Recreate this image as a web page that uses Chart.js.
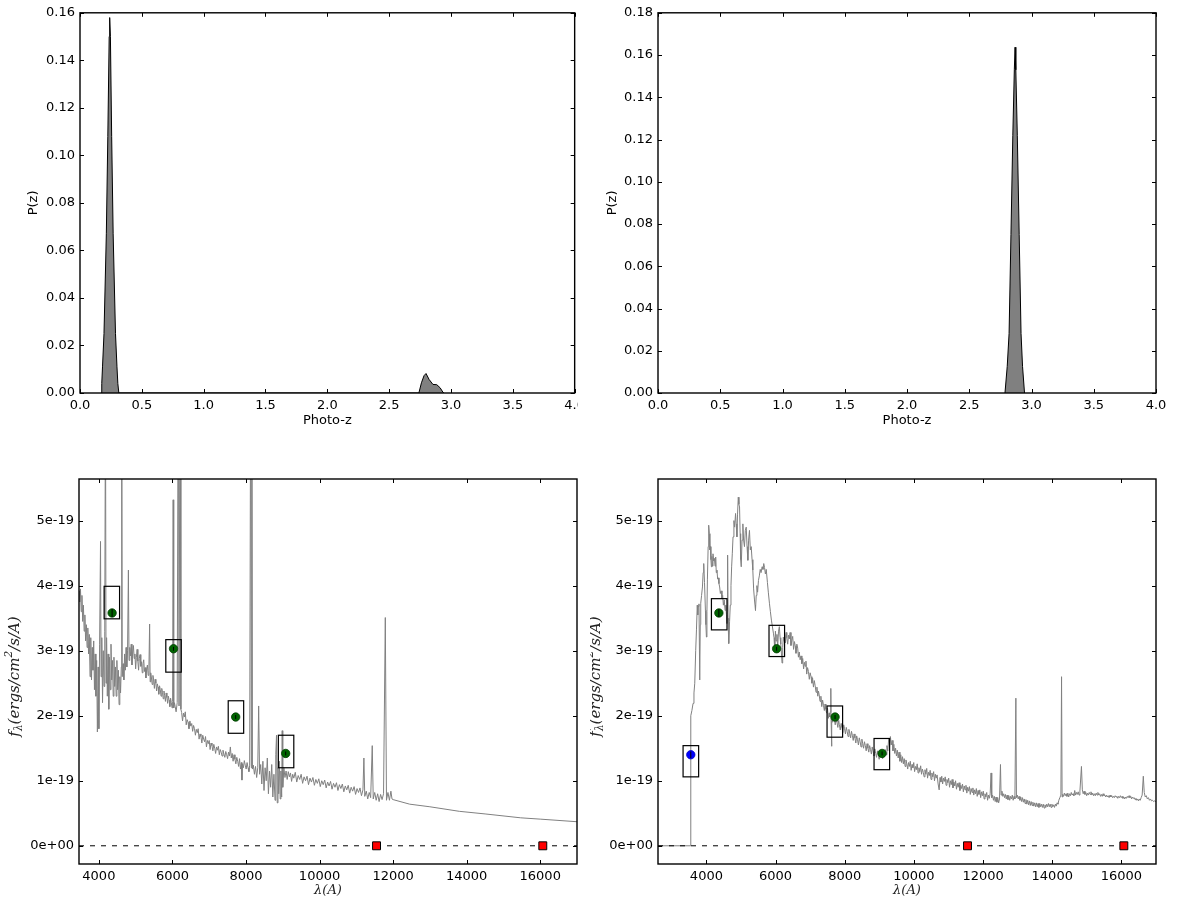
<!DOCTYPE html>
<html>
<head>
<meta charset="utf-8">
<title>Photo-z fits</title>
<script src="https://cdn.jsdelivr.net/npm/chart.js@4.4.1/dist/chart.umd.min.js"></script>
<style>
  body { margin: 0; background: #fff; }
  .panel { position: absolute; overflow: hidden; }
</style>
</head>
<body>
<div class="panel" style="left:0;top:0;width:578px;height:440px"><canvas id="pzLeft" width="590" height="440"></canvas></div>
<div class="panel" style="left:590px;top:0;width:589px;height:440px"><canvas id="pzRight" width="589" height="440"></canvas></div>
<div class="panel" style="left:0;top:440px;width:590px;height:463px"><canvas id="sedLeft" width="590" height="463"></canvas></div>
<div class="panel" style="left:590px;top:440px;width:589px;height:463px"><canvas id="sedRight" width="589" height="463"></canvas></div>
<script>
// ---- P(z) curves: [z, P] ----
var pzLeft = [
    [0.170, 0], [0.176, 0.004], [0.182, 0.011], [0.194, 0.025], [0.213, 0.067], [0.225, 0.108],
    [0.236, 0.150], [0.240, 0.158], [0.246, 0.150], [0.256, 0.108], [0.268, 0.067], [0.287, 0.025],
    [0.299, 0.011], [0.306, 0.004], [0.314, 0],
    [2.740, 0], [2.761, 0.0043], [2.782, 0.0073], [2.798, 0.0082], [2.823, 0.0057], [2.854, 0.0036],
    [2.885, 0.0035], [2.912, 0.0022], [2.934, 0.0004], [2.943, 0]
];
var pzRight = [
    [2.787, 0], [2.805, 0.0126], [2.820, 0.0282], [2.835, 0.075], [2.850, 0.122], [2.862, 0.153],
    [2.868, 0.1637], [2.874, 0.153], [2.886, 0.122], [2.901, 0.075], [2.916, 0.0282], [2.928, 0.0126],
    [2.944, 0]
];
var pzTicksX = [0, 0.5, 1, 1.5, 2, 2.5, 3, 3.5, 4];
var pzTicksLeft = [0, 0.02, 0.04, 0.06, 0.08, 0.10, 0.12, 0.14, 0.16];
var pzTicksRight = [0, 0.02, 0.04, 0.06, 0.08, 0.10, 0.12, 0.14, 0.16, 0.18];

// ---- template spectra: [wavelength (A), flux (1e-19 ergs/cm2/s/A)] ----
var specLeft = [
    [3460, 3.92], [3480, 3.75], [3500, 3.95], [3520, 3.60], [3540, 3.85], [3560, 3.45], [3580, 3.70],
    [3600, 3.30], [3620, 3.55], [3640, 3.15], [3660, 3.40], [3680, 3.05], [3700, 3.35], [3720, 2.95],
    [3740, 3.25], [3760, 2.60], [3780, 3.20], [3800, 2.55], [3820, 3.05], [3840, 2.70], [3860, 3.15],
    [3880, 2.40], [3900, 2.95], [3920, 2.30], [3940, 2.85], [3960, 1.75], [3980, 2.75], [4000, 1.80],
    [4020, 3.10], [4045, 4.68], [4060, 2.60], [4080, 3.20], [4100, 2.20], [4120, 3.00], [4140, 2.45],
    [4160, 3.30], [4180, 7.00], [4195, 2.50], [4210, 3.20], [4230, 2.30], [4250, 2.95], [4270, 2.10],
    [4290, 2.90], [4310, 2.40], [4330, 3.10], [4350, 2.55], [4370, 2.85], [4390, 2.30], [4410, 2.90],
    [4430, 2.45], [4450, 2.75], [4470, 2.30], [4490, 2.85], [4510, 2.40], [4530, 2.70], [4550, 2.17],
    [4570, 2.60], [4590, 2.35], [4610, 2.75], [4622, 7.00], [4635, 2.60], [4660, 2.80], [4680, 2.55],
    [4700, 2.95], [4720, 2.70], [4740, 3.05], [4760, 2.75], [4780, 3.00], [4803, 4.24], [4820, 2.85],
    [4840, 3.05], [4860, 2.92], [4880, 3.10], [4900, 2.78], [4920, 2.98], [4940, 3.08], [4960, 2.88],
    [4980, 2.95], [5000, 2.72], [5020, 2.90], [5040, 3.02], [5060, 2.84], [5080, 2.70], [5100, 2.88],
    [5120, 2.94], [5140, 2.76], [5160, 2.83], [5180, 2.66], [5200, 2.80], [5220, 2.86], [5240, 2.68],
    [5260, 2.74], [5280, 2.58], [5300, 2.72], [5320, 2.78], [5340, 2.62], [5360, 2.70], [5380, 3.41],
    [5395, 2.52], [5410, 2.66], [5430, 2.58], [5450, 2.48], [5470, 2.62], [5490, 2.55], [5510, 2.42],
    [5530, 2.56], [5550, 2.50], [5570, 2.38], [5590, 2.49], [5610, 2.44], [5630, 2.33], [5650, 2.46],
    [5670, 2.40], [5690, 2.30], [5710, 2.42], [5730, 2.36], [5750, 2.26], [5770, 2.38], [5790, 2.31],
    [5810, 2.22], [5830, 2.35], [5850, 2.28], [5870, 2.19], [5890, 2.30], [5910, 2.24], [5930, 2.14],
    [5950, 2.27], [5970, 2.20], [5990, 2.12], [6005, 2.22], [6020, 5.32], [6035, 2.12], [6055, 2.20],
    [6075, 2.14], [6100, 2.06], [6130, 2.20], [6160, 8.00], [6180, 2.15], [6210, 8.00], [6230, 2.10],
    [6250, 2.05], [6275, 1.92], [6300, 2.04], [6325, 1.98], [6350, 2.06], [6375, 1.86], [6400, 1.94],
    [6425, 1.90], [6450, 1.80], [6475, 1.92], [6500, 1.84], [6525, 1.88], [6550, 1.76], [6575, 1.85],
    [6600, 1.80], [6625, 1.70], [6650, 1.79], [6675, 1.74], [6700, 1.80], [6725, 1.64], [6750, 1.72],
    [6775, 1.68], [6800, 1.58], [6825, 1.70], [6850, 1.64], [6875, 1.60], [6900, 1.68], [6925, 1.52],
    [6950, 1.62], [6975, 1.57], [7000, 1.62], [7025, 1.48], [7050, 1.58], [7075, 1.54], [7100, 1.46],
    [7125, 1.56], [7150, 1.50], [7175, 1.42], [7200, 1.52], [7225, 1.47], [7250, 1.53], [7275, 1.40],
    [7300, 1.48], [7325, 1.44], [7350, 1.38], [7375, 1.47], [7400, 1.41], [7425, 1.36], [7450, 1.45],
    [7475, 1.40], [7500, 1.34], [7525, 1.44], [7550, 1.38], [7575, 1.52], [7600, 1.35], [7625, 1.42],
    [7650, 1.30], [7675, 1.40], [7700, 1.33], [7725, 1.26], [7750, 1.36], [7775, 1.30], [7800, 1.22],
    [7825, 1.34], [7850, 1.18], [7875, 1.28], [7890, 1.01], [7905, 1.26], [7930, 1.20], [7955, 1.31],
    [7980, 1.24], [8005, 1.18], [8030, 1.28], [8055, 1.20], [8080, 1.14], [8100, 1.24], [8130, 8.00],
    [8145, 1.20], [8160, 8.00], [8175, 1.18], [8200, 1.24], [8230, 1.10], [8260, 1.22], [8290, 1.05],
    [8320, 1.20], [8345, 2.15], [8370, 1.10], [8400, 1.25], [8430, 0.95], [8460, 1.30], [8490, 0.85],
    [8520, 1.20], [8550, 1.00], [8580, 1.35], [8610, 0.80], [8640, 1.15], [8670, 0.90], [8700, 1.25],
    [8730, 0.75], [8760, 1.10], [8790, 0.70], [8810, 1.40], [8830, 1.70], [8850, 0.66], [8870, 1.20],
    [8890, 0.80], [8910, 1.30], [8930, 0.72], [8950, 1.15], [8970, 0.75], [8985, 1.77], [9000, 0.90],
    [9030, 1.20], [9060, 1.05], [9090, 1.15], [9120, 1.02], [9150, 1.14], [9180, 1.06], [9210, 1.12],
    [9240, 0.99], [9270, 1.10], [9300, 1.04], [9340, 1.13], [9380, 0.98], [9420, 1.08], [9460, 1.02],
    [9500, 1.10], [9540, 0.96], [9580, 1.06], [9620, 1.00], [9660, 1.07], [9700, 0.94], [9740, 1.04],
    [9780, 0.98], [9820, 1.05], [9860, 0.93], [9900, 1.02], [9940, 0.96], [9980, 1.03], [10020, 0.91],
    [10060, 1.00], [10100, 0.94], [10140, 1.01], [10180, 0.89], [10220, 0.98], [10260, 0.92], [10300, 0.99],
    [10340, 0.87], [10380, 0.96], [10420, 0.90], [10460, 0.97], [10500, 0.85], [10540, 0.94], [10580, 0.88],
    [10620, 0.95], [10660, 0.83], [10700, 0.92], [10740, 0.86], [10780, 0.93], [10820, 0.81], [10860, 0.90],
    [10900, 0.84], [10940, 0.91], [10980, 0.79], [11020, 0.88], [11060, 0.82], [11100, 0.89], [11140, 0.77],
    [11180, 0.86], [11206, 1.35], [11230, 0.76], [11270, 0.84], [11310, 0.72], [11350, 0.82], [11390, 0.74],
    [11433, 1.54], [11460, 0.72], [11500, 0.82], [11540, 0.70], [11580, 0.80], [11620, 0.68], [11660, 0.79],
    [11700, 0.71], [11740, 0.80], [11788, 3.51], [11820, 0.70], [11860, 0.82], [11900, 0.70], [11940, 0.84],
    [11970, 0.72], [12000, 0.71], [12450, 0.64], [13000, 0.60], [13800, 0.53], [14500, 0.49], [15470, 0.43],
    [16000, 0.41], [17000, 0.37]
];

var specRight = [
    [2600, 0], [3545, 0], [3548, 2.00], [3580, 2.08], [3614, 2.19], [3640, 2.35], [3663, 2.50],
    [3690, 3.00], [3712, 3.32], [3735, 3.70], [3750, 3.55], [3760, 3.68], [3785, 3.72], [3807, 2.55],
    [3822, 3.40], [3836, 3.73], [3860, 3.85], [3885, 3.98], [3905, 4.20], [3922, 4.34], [3945, 4.05],
    [3971, 3.62], [3985, 3.40], [4000, 3.21], [4015, 3.60], [4029, 4.10], [4050, 4.60], [4066, 4.93],
    [4085, 4.80], [4100, 4.55], [4115, 4.60], [4130, 4.40], [4144, 4.29], [4160, 4.45], [4175, 4.30],
    [4190, 4.49], [4210, 4.38], [4230, 4.42], [4250, 4.30], [4268, 4.44], [4285, 4.20], [4305, 4.24],
    [4325, 4.10], [4345, 4.12], [4363, 4.03], [4383, 3.98], [4403, 3.88], [4425, 3.92], [4450, 3.80],
    [4470, 3.85], [4490, 3.70], [4515, 3.78], [4540, 3.62], [4560, 3.70], [4580, 3.55], [4594, 3.42],
    [4605, 3.60], [4613, 4.47], [4625, 3.50], [4640, 3.20], [4651, 3.11], [4670, 3.45], [4690, 3.70],
    [4710, 4.00], [4730, 4.30], [4748, 4.49], [4770, 4.75], [4795, 5.00], [4815, 4.90], [4843, 5.11],
    [4860, 4.95], [4882, 4.75], [4900, 5.10], [4921, 5.36], [4940, 5.25], [4958, 5.21], [4975, 4.80],
    [4990, 4.40], [5007, 4.29], [5030, 4.70], [5054, 4.95], [5075, 4.70], [5100, 4.60], [5125, 4.85],
    [5151, 4.90], [5175, 4.60], [5198, 4.39], [5220, 4.70], [5245, 4.85], [5270, 4.55], [5295, 4.60],
    [5320, 4.40], [5342, 4.24], [5365, 3.95], [5390, 3.78], [5405, 3.70], [5419, 3.62], [5440, 3.85],
    [5460, 4.00], [5480, 3.90], [5505, 4.08], [5530, 4.15], [5555, 4.25], [5580, 4.20], [5611, 4.29],
    [5635, 4.25], [5658, 4.34], [5680, 4.28], [5705, 4.18], [5730, 4.25], [5764, 4.05], [5790, 3.90],
    [5822, 3.73], [5850, 3.60], [5879, 3.47], [5905, 3.38], [5937, 3.27], [5955, 3.20], [5975, 3.01],
    [5995, 3.30], [6015, 3.15], [6040, 3.25], [6060, 3.05], [6085, 3.30], [6109, 3.37], [6130, 3.20],
    [6150, 3.10], [6170, 2.95], [6187, 2.81], [6205, 3.05], [6224, 3.21], [6245, 3.14], [6265, 3.25],
    [6285, 3.12], [6305, 3.28], [6325, 3.20], [6350, 3.10], [6375, 3.24], [6397, 3.18], [6420, 3.28],
    [6445, 3.08], [6470, 3.16], [6495, 3.22], [6520, 3.02], [6545, 3.14], [6570, 3.07], [6590, 2.96],
    [6615, 3.10], [6640, 3.04], [6660, 2.90], [6685, 2.98], [6710, 2.86], [6735, 2.92], [6760, 2.80],
    [6785, 2.88], [6810, 2.72], [6835, 2.82], [6860, 2.76], [6878, 2.84], [6900, 2.64], [6925, 2.74],
    [6950, 2.68], [6975, 2.56], [7000, 2.66], [7025, 2.60], [7050, 2.50], [7070, 2.58], [7095, 2.44],
    [7120, 2.54], [7145, 2.46], [7170, 2.36], [7195, 2.44], [7220, 2.30], [7240, 2.38], [7261, 2.32],
    [7285, 2.22], [7310, 2.30], [7335, 2.14], [7360, 2.24], [7385, 2.16], [7410, 2.08], [7430, 2.18],
    [7453, 2.10], [7475, 2.04], [7500, 2.12], [7525, 1.96], [7549, 2.04], [7565, 1.98], [7580, 2.06],
    [7597, 2.42], [7606, 1.92], [7616, 1.53], [7630, 2.00], [7650, 1.90], [7675, 2.04], [7700, 1.94],
    [7725, 1.86], [7750, 1.96], [7775, 1.90], [7800, 1.82], [7825, 1.93], [7845, 1.86], [7870, 1.78],
    [7895, 1.88], [7920, 1.82], [7945, 1.74], [7970, 1.86], [7995, 1.80], [8020, 1.72], [8045, 1.82],
    [8070, 1.76], [8095, 1.68], [8120, 1.79], [8145, 1.73], [8170, 1.66], [8195, 1.76], [8220, 1.70],
    [8245, 1.62], [8270, 1.72], [8295, 1.66], [8320, 1.58], [8345, 1.69], [8370, 1.63], [8395, 1.55],
    [8420, 1.66], [8445, 1.60], [8470, 1.52], [8495, 1.64], [8520, 1.57], [8545, 1.50], [8570, 1.60],
    [8595, 1.54], [8620, 1.46], [8645, 1.57], [8670, 1.50], [8695, 1.44], [8720, 1.54], [8745, 1.48],
    [8770, 1.41], [8795, 1.52], [8820, 1.45], [8845, 1.38], [8870, 1.49], [8895, 1.42], [8920, 1.36],
    [8945, 1.46], [8970, 1.40], [8995, 1.33], [9020, 1.44], [9045, 1.38], [9070, 1.46], [9095, 1.34],
    [9120, 1.44], [9145, 1.38], [9170, 1.48], [9195, 1.40], [9220, 1.54], [9245, 1.46], [9270, 1.64],
    [9295, 1.52], [9320, 1.68], [9345, 1.55], [9370, 1.62], [9395, 1.46], [9420, 1.56], [9445, 1.42],
    [9470, 1.50], [9495, 1.38], [9520, 1.47], [9545, 1.35], [9570, 1.44], [9595, 1.30], [9620, 1.40],
    [9645, 1.28], [9670, 1.37], [9695, 1.26], [9720, 1.34], [9745, 1.22], [9770, 1.32], [9795, 1.26],
    [9820, 1.18], [9845, 1.28], [9870, 1.22], [9895, 1.30], [9920, 1.16], [9945, 1.25], [9970, 1.20],
    [9995, 1.28], [10020, 1.14], [10045, 1.22], [10070, 1.17], [10095, 1.26], [10120, 1.12], [10145, 1.20],
    [10170, 1.14], [10195, 1.23], [10220, 1.10], [10245, 1.18], [10270, 1.13], [10295, 1.06], [10320, 1.17],
    [10345, 1.10], [10370, 1.19], [10395, 1.04], [10420, 1.13], [10445, 1.08], [10470, 1.16], [10495, 1.02],
    [10520, 1.12], [10545, 1.06], [10570, 1.14], [10595, 1.00], [10620, 1.10], [10645, 1.04], [10670, 1.09],
    [10700, 0.95], [10730, 0.86], [10755, 1.05], [10780, 0.98], [10805, 1.07], [10830, 0.95], [10855, 1.04],
    [10880, 0.99], [10905, 1.06], [10930, 0.93], [10955, 1.02], [10980, 0.97], [11005, 1.04], [11030, 0.90],
    [11055, 1.00], [11080, 0.94], [11105, 1.02], [11130, 0.89], [11155, 0.98], [11180, 0.92], [11205, 1.00],
    [11230, 0.87], [11255, 0.96], [11280, 0.90], [11305, 0.97], [11330, 0.85], [11355, 0.93], [11380, 0.88],
    [11405, 0.95], [11430, 0.83], [11455, 0.92], [11480, 0.86], [11505, 0.93], [11530, 0.81], [11555, 0.90],
    [11580, 0.84], [11605, 0.91], [11630, 0.79], [11655, 0.88], [11680, 0.82], [11705, 0.89], [11730, 0.78],
    [11755, 0.86], [11780, 0.80], [11805, 0.88], [11830, 0.76], [11855, 0.85], [11880, 0.79], [11905, 0.86],
    [11930, 0.74], [11955, 0.83], [11980, 0.77], [12005, 0.84], [12030, 0.72], [12055, 0.80], [12080, 0.75],
    [12105, 0.82], [12130, 0.70], [12155, 0.78], [12180, 0.73], [12205, 0.80], [12231, 1.12], [12250, 0.74],
    [12275, 0.78], [12300, 0.70], [12325, 0.76], [12350, 0.68], [12375, 0.75], [12400, 0.67], [12425, 0.74],
    [12450, 0.66], [12475, 0.72], [12503, 1.25], [12520, 0.78], [12545, 0.84], [12570, 0.76], [12595, 0.80],
    [12620, 0.74], [12645, 0.79], [12670, 0.72], [12695, 0.78], [12720, 0.71], [12745, 0.77], [12770, 0.70],
    [12795, 0.76], [12820, 0.72], [12845, 0.78], [12870, 0.70], [12895, 0.76], [12920, 0.72], [12948, 2.27],
    [12965, 0.74], [12990, 0.78], [13015, 0.72], [13040, 0.76], [13065, 0.70], [13090, 0.75], [13115, 0.68],
    [13140, 0.74], [13165, 0.67], [13190, 0.72], [13215, 0.65], [13240, 0.71], [13265, 0.64], [13290, 0.70],
    [13315, 0.63], [13340, 0.69], [13365, 0.62], [13390, 0.68], [13415, 0.62], [13440, 0.67], [13465, 0.61],
    [13490, 0.66], [13515, 0.60], [13540, 0.66], [13565, 0.60], [13590, 0.65], [13615, 0.59], [13640, 0.65],
    [13665, 0.60], [13690, 0.64], [13715, 0.59], [13740, 0.64], [13765, 0.58], [13790, 0.63], [13815, 0.59],
    [13840, 0.64], [13865, 0.60], [13890, 0.65], [13915, 0.60], [13940, 0.64], [13965, 0.59], [13990, 0.64],
    [14015, 0.60], [14040, 0.63], [14065, 0.59], [14090, 0.64], [14115, 0.61], [14140, 0.66], [14165, 0.64],
    [14190, 0.70], [14220, 0.74], [14250, 0.78], [14269, 2.60], [14285, 0.75], [14300, 0.79], [14325, 0.76],
    [14350, 0.81], [14375, 0.77], [14400, 0.80], [14425, 0.76], [14450, 0.81], [14475, 0.75], [14500, 0.80],
    [14525, 0.77], [14550, 0.82], [14575, 0.78], [14600, 0.80], [14625, 0.77], [14650, 0.85], [14675, 0.78],
    [14700, 0.82], [14725, 0.79], [14750, 0.83], [14775, 0.78], [14800, 0.84], [14844, 1.22], [14870, 0.86],
    [14895, 0.80], [14920, 0.84], [14945, 0.79], [14970, 0.82], [14995, 0.77], [15020, 0.81], [15045, 0.78],
    [15070, 0.82], [15095, 0.79], [15120, 0.83], [15145, 0.78], [15170, 0.81], [15195, 0.77], [15220, 0.80],
    [15245, 0.77], [15270, 0.81], [15295, 0.78], [15320, 0.82], [15345, 0.78], [15370, 0.80], [15395, 0.76],
    [15420, 0.79], [15445, 0.76], [15470, 0.80], [15495, 0.77], [15520, 0.78], [15545, 0.75], [15570, 0.78],
    [15595, 0.75], [15620, 0.77], [15645, 0.74], [15670, 0.78], [15695, 0.75], [15720, 0.77], [15745, 0.74],
    [15770, 0.76], [15795, 0.74], [15820, 0.77], [15845, 0.75], [15870, 0.76], [15895, 0.73], [15920, 0.76],
    [15945, 0.74], [15970, 0.77], [15995, 0.74], [16020, 0.76], [16045, 0.73], [16070, 0.75], [16095, 0.72],
    [16120, 0.75], [16145, 0.73], [16170, 0.76], [16195, 0.74], [16220, 0.77], [16245, 0.74], [16270, 0.76],
    [16295, 0.72], [16320, 0.75], [16345, 0.73], [16370, 0.74], [16395, 0.71], [16420, 0.73], [16445, 0.70],
    [16470, 0.72], [16495, 0.69], [16520, 0.72], [16545, 0.70], [16570, 0.74], [16600, 0.78], [16633, 1.07],
    [16660, 0.82], [16690, 0.75], [16720, 0.77], [16750, 0.72], [16780, 0.74], [16810, 0.70], [16840, 0.72],
    [16870, 0.69], [16900, 0.70], [16930, 0.68], [16960, 0.69], [17000, 0.68]
];
var sedTicksX = [4000, 6000, 8000, 10000, 12000, 14000, 16000];
var sedTicksY = [0, 1, 2, 3, 4, 5];

// ---- photometry (flux in 1e-19 units) ----
var bandLambda = [4360, 6030, 7720, 9080];
var bandFlux = [3.58, 3.03, 1.98, 1.42];
var bandErr = [0.06, 0.03, 0.03, 0.03];
var uLambda = [3548];
var uFlux = [1.40];
var uErr = [0.05];
var limitLambda = [11550, 16070];
var limitFlux = [0, 0];

// model fluxes through each filter, drawn as boxes
var modelLeft = [[4353, 3.74], [6030, 2.92], [7727, 1.98], [9090, 1.45]];
var modelRight = [[3550, 1.30], [4370, 3.56], [6035, 3.15], [7713, 1.91], [9072, 1.41]];

Chart.defaults.font.family = 'DejaVu Sans';
Chart.defaults.font.size = 13;
Chart.defaults.color = '#000';

function pairs(arr) {
    return arr.map(function (p) { return {x: p[0], y: p[1]}; });
}

function fixedTicks(values) {
    return function (scale) {
        scale.ticks = values.map(function (v) { return {value: v}; });
    };
}

// frame + inward ticks on all four sides
var frameTicks = {
    id: 'frameTicks',
    afterDatasetsDraw: function (chart) {
        var ctx = chart.ctx, a = chart.chartArea;
        var xs = chart.scales.x, ys = chart.scales.y;
        ctx.save();
        ctx.strokeStyle = '#000';
        ctx.lineWidth = 1;
        ctx.beginPath();
        xs.ticks.forEach(function (t) {
            var px = Math.round(xs.getPixelForValue(t.value)) + 0.5;
            ctx.moveTo(px, a.bottom); ctx.lineTo(px, a.bottom - 4);
            ctx.moveTo(px, a.top); ctx.lineTo(px, a.top + 4);
        });
        ys.ticks.forEach(function (t) {
            var py = Math.round(ys.getPixelForValue(t.value)) + 0.5;
            ctx.moveTo(a.left, py); ctx.lineTo(a.left + 4, py);
            ctx.moveTo(a.right, py); ctx.lineTo(a.right - 4, py);
        });
        ctx.stroke();
        ctx.lineWidth = 1.4;
        ctx.strokeRect(a.left, a.top, a.right - a.left, a.bottom - a.top);
        ctx.restore();
    }
};

// draws a run of text pieces with sub/superscripts, centred on 0,0
function drawRich(ctx, parts, family, size, style) {
    var widths = parts.map(function (p) {
        ctx.font = style + ' ' + (p.sub || p.sup ? size * 0.7 : size) + 'px ' + family;
        return ctx.measureText(p.text).width;
    });
    var total = widths.reduce(function (s, w) { return s + w; }, 0);
    var x = -total / 2;
    parts.forEach(function (p, i) {
        ctx.font = style + ' ' + (p.sub || p.sup ? size * 0.7 : size) + 'px ' + family;
        var dy = p.sub ? size * 0.28 : (p.sup ? -size * 0.38 : 0);
        ctx.fillText(p.text, x, dy);
        x += widths[i];
    });
}

var axisTitles = {
    id: 'axisTitles',
    afterDraw: function (chart, args, opts) {
        var ctx = chart.ctx, a = chart.chartArea;
        ctx.save();
        ctx.fillStyle = opts.color || '#000';
        ctx.textBaseline = 'middle';
        ctx.textAlign = 'left';
        ctx.translate((a.left + a.right) / 2, a.bottom + opts.xOffset);
        drawRich(ctx, opts.xParts, opts.family, opts.xSize, opts.style);
        ctx.restore();
        ctx.save();
        ctx.fillStyle = opts.color || '#000';
        ctx.textBaseline = 'middle';
        ctx.textAlign = 'left';
        ctx.translate(a.left - opts.yOffset, (a.top + a.bottom) / 2 + (opts.yShift || 0));
        ctx.rotate(-Math.PI / 2);
        drawRich(ctx, opts.yParts, opts.family, opts.ySize, opts.style);
        ctx.restore();
    }
};

// filter boxes around model fluxes and error bars on the photometry
var photMarks = {
    id: 'photMarks',
    afterDatasetsDraw: function (chart, args, opts) {
        if (!opts.boxes) return;
        var ctx = chart.ctx, xs = chart.scales.x, ys = chart.scales.y;
        ctx.save();
        ctx.strokeStyle = '#000';
        ctx.lineWidth = 1.2;
        opts.boxes.forEach(function (b) {
            var x0 = xs.getPixelForValue(b[0] - opts.halfWidth);
            var x1 = xs.getPixelForValue(b[0] + opts.halfWidth);
            var y0 = ys.getPixelForValue(b[1] + opts.halfHeight);
            var y1 = ys.getPixelForValue(b[1] - opts.halfHeight);
            ctx.strokeRect(x0, y0, x1 - x0, y1 - y0);
        });
        ctx.lineWidth = 1;
        ctx.beginPath();
        opts.errors.forEach(function (e) {
            var px = xs.getPixelForValue(e[0]);
            ctx.moveTo(px, ys.getPixelForValue(e[1] - e[2]));
            ctx.lineTo(px, ys.getPixelForValue(e[1] + e[2]));
        });
        ctx.stroke();
        ctx.restore();
    }
};

function pzChart(id, curve, yTicks, leftW, rightPad, yTitleOffset) {
    return new Chart(document.getElementById(id).getContext('2d'), {
        type: 'line',
        data: {
            datasets: [{
                data: pairs(curve),
                borderColor: '#000',
                backgroundColor: '#808080',
                borderWidth: 1,
                pointRadius: 0,
                fill: 'origin',
                tension: 0
            }]
        },
        options: {
            responsive: false,
            animation: false,
            events: [],
            layout: {padding: {top: 9, right: rightPad, left: 0, bottom: 0}, autoPadding: false},
            plugins: {
                legend: {display: false},
                tooltip: {enabled: false},
                axisTitles: {
                    xParts: [{text: 'Photo-z'}], yParts: [{text: 'P(z)'}],
                    family: 'DejaVu Sans', xSize: 13, ySize: 13, style: 'normal',
                    xOffset: 27.5, yOffset: yTitleOffset
                }
            },
            scales: {
                x: {
                    type: 'linear', min: pzTicksX[0], max: pzTicksX[pzTicksX.length - 1],
                    grid: {display: false, drawTicks: false}, border: {display: false},
                    afterBuildTicks: fixedTicks(pzTicksX),
                    ticks: {padding: 5, maxRotation: 0, autoSkip: false,
                        callback: function (v) { return v.toFixed(1); }},
                    afterFit: function (s) { s.height = 47; }
                },
                y: {
                    min: 0, max: yTicks[yTicks.length - 1],
                    grid: {display: false, drawTicks: false}, border: {display: false},
                    afterBuildTicks: fixedTicks(yTicks),
                    ticks: {padding: 5, autoSkip: false,
                        callback: function (v) { return v.toFixed(2); }},
                    afterFit: function (s) { s.width = leftW; }
                }
            }
        },
        plugins: [frameTicks, axisTitles]
    });
}

function fluxLabel(v) {
    var n = Math.round(v);
    return n === 0 ? '0e+00' : n + 'e-19';
}

function sedChart(id, spec, xMin, leftW, rightPad, boxes, halfW, halfH, withU, yTitleOffset) {
    var errors = bandLambda.map(function (l, i) { return [l, bandFlux[i], bandErr[i]]; });
    var datasets = [];
    if (withU) {
        errors.push([uLambda[0], uFlux[0], uErr[0]]);
        datasets.push({
            data: uLambda.map(function (l, i) { return {x: l, y: uFlux[i]}; }),
            showLine: false, pointRadius: 4.2, pointStyle: 'circle',
            pointBackgroundColor: '#0000ff', pointBorderColor: '#0000c0', pointBorderWidth: 0.8
        });
    }
    datasets.push({
        data: bandLambda.map(function (l, i) { return {x: l, y: bandFlux[i]}; }),
        showLine: false, pointRadius: 4.2, pointStyle: 'circle',
        pointBackgroundColor: '#006400', pointBorderColor: '#003c00', pointBorderWidth: 0.8
    });
    datasets.push({
        data: limitLambda.map(function (l, i) { return {x: l, y: limitFlux[i]}; }),
        showLine: false, pointRadius: 5.6, pointStyle: 'rect',
        pointBackgroundColor: '#ff0000', pointBorderColor: '#000', pointBorderWidth: 1
    });
    datasets.push({
        data: [{x: xMin, y: 0}, {x: 17000, y: 0}],
        borderColor: '#000', borderWidth: 1, borderDash: [5, 6], pointRadius: 0
    });
    datasets.push({
        data: pairs(spec),
        borderColor: '#808080', borderWidth: 1, pointRadius: 0, tension: 0
    });
    return new Chart(document.getElementById(id).getContext('2d'), {
        type: 'line',
        data: {datasets: datasets},
        options: {
            responsive: false,
            animation: false,
            events: [],
            layout: {padding: {top: 39, right: rightPad, left: 0, bottom: 0}, autoPadding: false},
            plugins: {
                legend: {display: false},
                tooltip: {enabled: false},
                photMarks: {boxes: boxes, halfWidth: halfW, halfHeight: halfH, errors: errors},
                axisTitles: {
                    xParts: [{text: 'λ(A)'}],
                    yParts: [{text: 'f'}, {text: 'λ', sub: true}, {text: '(ergs/cm'}, {text: '2', sup: true}, {text: '/s/A)'}],
                    family: 'DejaVu Serif', xSize: 13, ySize: 15, style: 'italic', color: '#222',
                    xOffset: 27, yOffset: yTitleOffset, yShift: 5
                }
            },
            scales: {
                x: {
                    type: 'linear', min: xMin, max: 17000,
                    grid: {display: false, drawTicks: false}, border: {display: false},
                    afterBuildTicks: fixedTicks(sedTicksX),
                    ticks: {padding: 5, maxRotation: 0, autoSkip: false,
                        callback: function (v) { return String(v); }},
                    afterFit: function (s) { s.height = 39; }
                },
                y: {
                    min: -0.28, max: 5.64,
                    grid: {display: false, drawTicks: false}, border: {display: false},
                    afterBuildTicks: fixedTicks(sedTicksY),
                    ticks: {padding: 5, autoSkip: false, callback: fluxLabel},
                    afterFit: function (s) { s.width = leftW; }
                }
            }
        },
        plugins: [frameTicks, photMarks, axisTitles]
    });
}

pzChart('pzLeft', pzLeft, pzTicksLeft, 80, 13, 46);
pzChart('pzRight', pzRight, pzTicksRight, 68, 23, 45.5);
sedChart('sedLeft', specLeft, 3460, 79, 13, modelLeft, 210, 0.25, false, 64);
sedChart('sedRight', specRight, 2600, 68, 23, modelRight, 225, 0.24, true, 62);
</script>
</body>
</html>
